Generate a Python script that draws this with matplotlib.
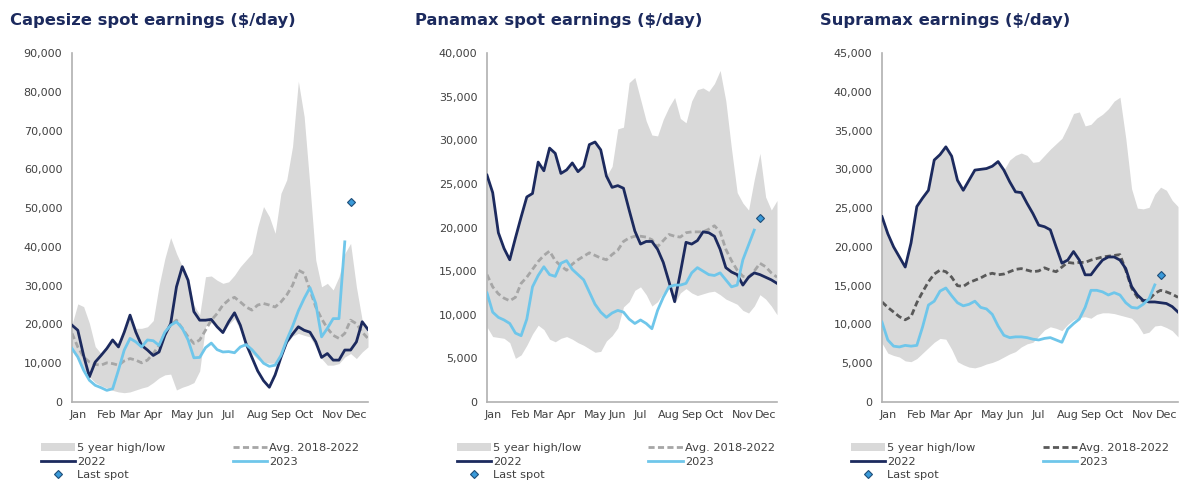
import matplotlib
matplotlib.use('Agg')

import matplotlib.pyplot as plt
from matplotlib.patches import Patch
from matplotlib.lines import Line2D

# weekly spot earnings, $/day (52 weeks; 2023 up to latest week)
weeks = list(range(52))
month_pos = [1, 6, 10, 14, 19, 23, 27, 32, 36, 40, 45, 49]
month_labels = ['Jan', 'Feb', 'Mar', 'Apr', 'May', 'Jun', 'Jul', 'Aug', 'Sep', 'Oct', 'Nov', 'Dec']

cape_hi = [20000, 25300, 24600, 20300, 14300, 12500, 13800, 16000, 15000, 18000, 22400, 19000, 19000,
           19400, 21000, 30000, 37000, 42400, 38300, 35000, 31500, 25000, 22500, 32300, 32500, 31400,
           30600, 31000, 32700, 34900, 36600, 38300, 45200, 50400, 47800, 43500, 53800, 57300, 65900,
           82700, 73600, 55600, 36600, 29700, 30600, 28900, 32300, 38300, 40900, 29700, 21100, 17700]
cape_lo = [14300, 11000, 8500, 6500, 5000, 4200, 3600, 3000, 2600, 2400, 2600, 3100, 3600,
           4000, 5000, 6200, 7000, 7200, 3100, 3800, 4300, 5000, 8000, 19500, 20500, 19400,
           17900, 20000, 21500, 18500, 14800, 12500, 11000, 10300, 10000, 10000, 11500, 15000, 17000,
           17700, 17200, 16800, 14200, 11200, 9500, 9500, 9900, 11600, 12500, 11200, 12900, 14200]
cape_avg = [17700, 14200, 11600, 10300, 9700, 9500, 10100, 9900, 9500, 10600, 11200, 10800, 10100,
            10800, 12500, 14600, 17700, 19800, 21100, 19000, 16800, 15100, 16000, 18500, 21100, 22800,
            25000, 26300, 27000, 25800, 24500, 23700, 25000, 25400, 25000, 24500, 25800, 27600, 30100,
            34000, 33200, 28900, 24500, 21500, 19000, 17200, 16400, 17700, 21100, 20200, 18000, 16400]
cape_2022 = [19800, 18500, 12000, 6500, 10300, 12000, 13800, 16000, 14200, 18000, 22400, 18000, 14600,
             13400, 12000, 12900, 17200, 20200, 29700, 34900, 31400, 23300, 21100, 21100, 21300, 19400,
             17900, 20700, 23000, 19800, 15000, 11500, 8000, 5500, 3800, 7000, 11500, 15500, 17500,
             19400, 18500, 18000, 15500, 11500, 12500, 10800, 10800, 13400, 13400, 15500, 20700, 18700]
cape_2023 = [13800, 11600, 8200, 5600, 4300, 3700, 3000, 3400, 8200, 13400, 16400, 15500, 14200,
             16000, 15800, 14600, 18000, 19800, 20700, 19000, 16000, 11400, 11500, 14000, 15200, 13500,
             12900, 13000, 12700, 14200, 14800, 13500, 11800, 10000, 9200, 9500, 12000, 16000, 19500,
             23500, 26700, 29500, 25400, 16800, 19000, 21500, 21500, 41300]
cape_last = 51700

pmx_hi = [26000, 24000, 19400, 17600, 16300, 18800, 21200, 23500, 23900, 27500, 26500, 29100, 28500,
          26200, 26600, 27400, 26400, 27000, 29500, 29800, 28900, 25900, 27000, 31300, 31500, 36600,
          37200, 34700, 32200, 30600, 30500, 32400, 33800, 34900, 32500, 32000, 34500, 35800, 36000,
          35600, 36500, 38000, 34500, 29000, 24000, 22800, 22000, 25500, 28500, 23500, 22000, 23100]
pmx_lo = [8600, 7500, 7400, 7300, 6800, 5000, 5400, 6500, 7800, 8800, 8300, 7200, 6900,
          7300, 7500, 7200, 6800, 6500, 6100, 5700, 5800, 7000, 7600, 8500, 10900, 11500,
          12800, 13200, 12300, 11000, 11500, 12500, 13000, 11300, 12500, 13000, 12500, 12200, 12400,
          12600, 12700, 12300, 11800, 11500, 11200, 10500, 10200, 11000, 12300, 11800, 11000, 10000]
pmx_avg = [14600, 13200, 12400, 11900, 11600, 12000, 13600, 14300, 15200, 16100, 16800, 17300, 16200,
           15600, 15100, 15800, 16300, 16700, 17100, 16800, 16500, 16300, 16900, 17400, 18400, 18800,
           19000, 19000, 18900, 18600, 17800, 18500, 19200, 19000, 18900, 19400, 19500, 19500, 19500,
           19800, 20200, 19500, 17500, 16200, 15100, 14400, 14300, 15000, 15900, 15500, 14800, 14300]
pmx_2022 = [26000, 24000, 19400, 17600, 16300, 18800, 21200, 23500, 23900, 27500, 26500, 29100, 28500,
            26200, 26600, 27400, 26400, 27000, 29500, 29800, 28900, 25900, 24600, 24800, 24500, 22000,
            19600, 18100, 18400, 18400, 17500, 16000, 13800, 11500, 14800, 18300, 18100, 18500, 19500,
            19400, 19000, 17500, 15400, 14900, 14600, 13400, 14300, 14800, 14600, 14300, 14000, 13600]
pmx_2023 = [12500, 10300, 9700, 9400, 9000, 7900, 7600, 9500, 13200, 14500, 15500, 14600, 14400,
            15900, 16200, 15200, 14600, 14000, 12600, 11200, 10300, 9700, 10200, 10500, 10300, 9500,
            9000, 9400, 9000, 8400, 10500, 12000, 13200, 13400, 13400, 13600, 14800, 15400, 15000,
            14600, 14500, 14800, 14000, 13200, 13400, 16300, 18000, 19700]
pmx_last = 21100

smx_hi = [23900, 21700, 20000, 18700, 17400, 20500, 25200, 26300, 27300, 31200, 31900, 32900, 31700,
          28600, 27300, 28600, 29900, 30000, 30100, 30400, 31000, 29900, 31200, 31800, 32100, 31800,
          30900, 31000, 31800, 32600, 33300, 34000, 35500, 37200, 37400, 35600, 35800, 36600, 37100,
          37800, 38800, 39300, 34000, 27500, 25000, 24900, 25100, 26800, 27700, 27300, 26000, 25200]
smx_lo = [7600, 6300, 6000, 5800, 5300, 5200, 5600, 6300, 7000, 7700, 8200, 8100, 6800,
          5200, 4800, 4500, 4400, 4600, 4900, 5100, 5400, 5800, 6200, 6500, 7100, 7500,
          7700, 8500, 9300, 9700, 9500, 9200, 10000, 10600, 10900, 11000, 10800, 11300, 11500,
          11500, 11400, 11200, 11000, 10800, 10000, 8800, 9000, 9800, 9900, 9600, 9200, 8400]
smx_avg = [12900, 12200, 11600, 11000, 10600, 11000, 12800, 14200, 15500, 16500, 17000, 16800, 16100,
           15000, 14900, 15400, 15700, 16000, 16400, 16600, 16400, 16500, 16800, 17100, 17200, 17000,
           16800, 16900, 17300, 17000, 16800, 17400, 18000, 17900, 18000, 18000, 18300, 18500, 18700,
           18800, 18900, 19000, 17000, 14700, 13500, 13000, 13200, 14000, 14400, 14200, 13900, 13500]
smx_2022 = [23900, 21700, 20000, 18700, 17400, 20500, 25200, 26300, 27300, 31200, 31900, 32900, 31700,
            28600, 27300, 28600, 29900, 30000, 30100, 30400, 31000, 29900, 28400, 27100, 27000, 25600,
            24300, 22800, 22600, 22200, 20000, 17900, 18300, 19400, 18300, 16400, 16400, 17400, 18300,
            18700, 18700, 18300, 17200, 14900, 13800, 13100, 12900, 12900, 12800, 12700, 12300, 11600]
smx_2023 = [10300, 8000, 7200, 7100, 7300, 7200, 7300, 9700, 12500, 13000, 14300, 14700, 13700,
            12800, 12400, 12600, 13000, 12200, 12000, 11300, 9800, 8600, 8300, 8400, 8400, 8300,
            8100, 8000, 8200, 8300, 8000, 7700, 9400, 10100, 10700, 12200, 14400, 14400, 14200,
            13800, 14100, 13800, 12800, 12200, 12100, 12600, 13300, 15100]
smx_last = 16400

NAVY = '#1c2a5e'
LIGHT = '#6fc6ea'
BAND = '#d9d9d9'
TXT = '#404040'


def draw_panel(ax, title, title_off, hi, lo, avg, y22, y23, last, ymax, step, avg_color):
    ax.fill_between(weeks, lo, hi, color=BAND, lw=0, zorder=1)
    ax.plot(weeks, avg, color=avg_color, lw=2, ls=(0, (2.2, 1.2)), zorder=2)
    ax.plot(weeks, y22, color=NAVY, lw=2.0, zorder=3)
    ax.plot(weeks[:len(y23)], y23, color=LIGHT, lw=2, zorder=4)
    ax.plot([len(y23)], [last], ls='none', marker='D', ms=4.5,
            mfc='#3a9ad9', mec='#1f4e79', mew=0.8, zorder=5)

    ax.set_xlim(0, 51)
    ax.set_ylim(0, ymax)
    ax.set_yticks(range(0, ymax + 1, step))
    ax.set_yticklabels([f'{v:,}' for v in range(0, ymax + 1, step)])
    ax.set_xticks(month_pos)
    ax.set_xticklabels(month_labels)
    ax.tick_params(length=0, labelsize=8, colors=TXT)
    ax.tick_params(axis='y', pad=7)
    ax.tick_params(axis='x', pad=6)
    for s in ['top', 'right']:
        ax.spines[s].set_visible(False)
    for s in ['left', 'bottom']:
        ax.spines[s].set_color('#b0b0b0')
        ax.spines[s].set_linewidth(1.2)

    handles = [
        Patch(color=BAND, lw=0),
        Line2D([], [], color=NAVY, lw=2.0),
        Line2D([], [], ls='none', marker='D', ms=4.5, mfc='#3a9ad9', mec='#1f4e79', mew=0.8),
        Line2D([], [], color=avg_color, lw=2, ls=(0, (2.2, 1.2))),
        Line2D([], [], color=LIGHT, lw=2),
    ]
    labels = ['5 year high/low', '2022', 'Last spot', 'Avg. 2018-2022', '2023']
    ax.legend(handles, labels, ncol=2, loc='upper left', bbox_to_anchor=(-0.105, -0.118),
              frameon=False, fontsize=8.2, labelcolor=TXT, handlelength=3.0, handleheight=0.7,
              handletextpad=0.2, labelspacing=0.3, columnspacing=5.9, borderpad=0,
              borderaxespad=0)

    bb = ax.get_position()
    fig.text(bb.x0 - title_off / 1200, 0.958, title, fontsize=11.8, fontweight='bold',
             color=NAVY, ha='left', va='center')


fig = plt.figure(figsize=(12, 4.9), dpi=100)
ax1 = fig.add_axes([72 / 1200, 88 / 490, 296 / 1200, 349 / 490])
ax2 = fig.add_axes([487 / 1200, 88 / 490, 290 / 1200, 349 / 490])
ax3 = fig.add_axes([882 / 1200, 88 / 490, 296 / 1200, 349 / 490])

draw_panel(ax1, 'Capesize spot earnings ($/day)', 62, cape_hi, cape_lo, cape_avg,
           cape_2022, cape_2023, cape_last, 90000, 10000, '#a6a6a6')
draw_panel(ax2, 'Panamax spot earnings ($/day)', 72, pmx_hi, pmx_lo, pmx_avg,
           pmx_2022, pmx_2023, pmx_last, 40000, 5000, '#a6a6a6')
draw_panel(ax3, 'Supramax earnings ($/day)', 62, smx_hi, smx_lo, smx_avg,
           smx_2022, smx_2023, smx_last, 45000, 5000, '#595959')

fig.savefig('out.png', dpi=100)
